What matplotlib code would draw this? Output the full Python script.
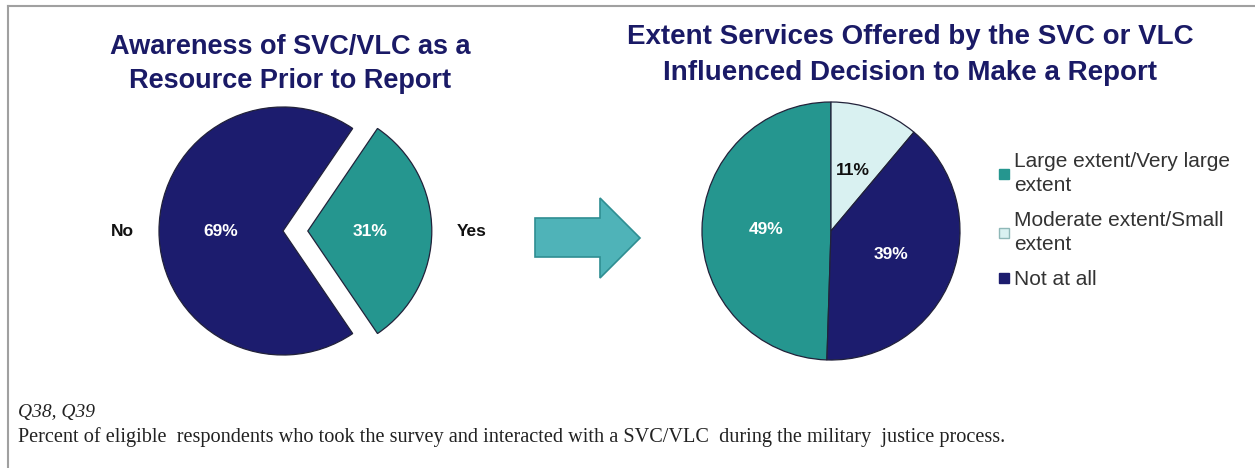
import matplotlib.pyplot as plt
from matplotlib.patches import Polygon
from matplotlib.lines import Line2D

# Data
aware_labels = ['Yes', 'No']
aware_values = [31, 69]

extent_labels = ['Large extent/Very large\nextent', 'Moderate extent/Small\nextent', 'Not at all']
extent_values = [49, 11, 39]

navy = '#1c1c6e'
teal = '#25968f'
light = '#d9f1f1'
title_color = '#1a1a66'

W, H = 1255, 468
fig = plt.figure(figsize=(W / 100, H / 100), dpi=100)
plt.rcParams['font.family'] = ['Liberation Sans', 'DejaVu Sans']


def px_axes(cx, cy, r):
    # axes where data radius 1 equals r pixels, centred on (cx, cy) in image pixels
    ax = fig.add_axes([(cx - r) / W, (H - cy - r) / H, 2 * r / W, 2 * r / H])
    ax.set_xlim(-1, 1)
    ax.set_ylim(-1, 1)
    ax.set_aspect('equal')
    ax.axis('off')
    return ax


# Left pie
ax1 = px_axes(283, 231, 124)
pct_share = 100 * aware_values[0] / sum(aware_values)
wedges1, texts1, autotexts1 = ax1.pie(
    aware_values, labels=aware_labels, colors=[teal, navy],
    explode=[0.2, 0], startangle=-pct_share * 1.8,
    autopct='%1.0f%%', pctdistance=0.5, labeldistance=1.2,
    wedgeprops=dict(edgecolor='#22223a', linewidth=0.9, clip_on=False),
    textprops=dict(fontsize=12.5, fontweight='bold', color='#111111'))
for t in autotexts1:
    t.set_color('white')
for t in texts1:
    t.set_clip_on(False)
ax1.set_xlim(-1, 1)
ax1.set_ylim(-1, 1)

# Right pie
ax2 = px_axes(831, 231, 129)
wedges2, texts2, autotexts2 = ax2.pie(
    extent_values, colors=[teal, light, navy],
    startangle=90 + 360 * extent_values[0] / sum(extent_values), counterclock=False,
    autopct='%1.0f%%', pctdistance=0.5,
    wedgeprops=dict(edgecolor='#22223a', linewidth=0.9, clip_on=False),
    textprops=dict(fontsize=12.5, fontweight='bold'))
autotexts2[0].set_color('white')
autotexts2[1].set_color('#111111')
autotexts2[2].set_color('white')
ax2.set_xlim(-1, 1)
ax2.set_ylim(-1, 1)

handles = [Line2D([], [], marker='s', linestyle='', markersize=7, color=c)
           for c in [teal, light, navy]]
handles[1].set_markeredgecolor('#8fb8b8')
leg = fig.legend(handles, extent_labels, loc='upper left', bbox_to_anchor=(989 / W, 1 - 144 / H),
                 frameon=False, fontsize=15, handlelength=0.6, handletextpad=0.2,
                 labelspacing=0.78, borderaxespad=0, labelcolor='#333333')
for t in leg.get_texts():
    t.set_linespacing(1.3)

# Titles
fig.text(290 / W, 1 - 64 / H, 'Awareness of SVC/VLC as a\nResource Prior to Report',
         ha='center', va='center', fontsize=19.5, fontweight='bold', color=title_color,
         linespacing=1.4)
fig.text(910 / W, 1 - 54.5 / H, 'Extent Services Offered by the SVC or VLC\nInfluenced Decision to Make a Report',
         ha='center', va='center', fontsize=20, fontweight='bold', color=title_color,
         linespacing=1.5)

# Arrow between the charts
arrow_pts = [(535, 218), (600, 218), (600, 198), (640, 238), (600, 278), (600, 257), (535, 257)]
fig.patches.append(Polygon([(x / W, 1 - y / H) for x, y in arrow_pts], closed=True,
                           transform=fig.transFigure, facecolor='#4fb3b8',
                           edgecolor='#2f8e92', linewidth=1.2))

# Footer notes
fig.text(18 / W, 1 - 412 / H, 'Q38, Q39', ha='left', va='center', fontsize=14,
         family='Liberation Serif', style='italic', color='#222222')
fig.text(18 / W, 1 - 437 / H,
         'Percent of eligible  respondents who took the survey and interacted with a SVC/VLC  during the military  justice process.',
         ha='left', va='center', fontsize=14.6, family='Liberation Serif', color='#222222')

# Frame lines
fig.add_artist(Line2D([8 / W, 1], [1 - 6 / H, 1 - 6 / H], transform=fig.transFigure,
                      color='#a0a0a0', linewidth=1.5))
fig.add_artist(Line2D([8 / W, 8 / W], [0, 1 - 6 / H], transform=fig.transFigure,
                      color='#a0a0a0', linewidth=1.5))

plt.savefig('out.png', dpi=100)
